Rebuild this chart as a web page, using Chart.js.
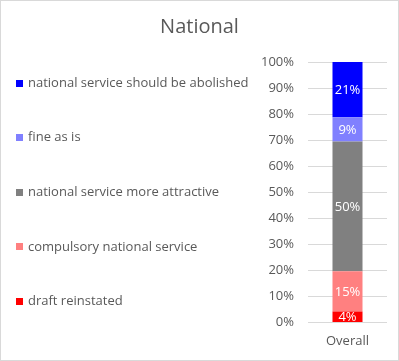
<!DOCTYPE html>
<html>
<head>
<meta charset="utf-8">
<script src="https://cdn.jsdelivr.net/npm/chart.js@4.4.1/dist/chart.umd.min.js"></script>
<style>
  html, body { margin: 0; padding: 0; background: #fff; }
  #wrap { width: 399px; height: 361px; box-sizing: border-box; border: 1px solid #d9d9d9; }
  canvas { display: block; }
</style>
</head>
<body>
<div id="wrap"><canvas id="myChart" width="397" height="359"></canvas></div>
<script>
// data
const categories = ['Overall'];
const seriesNames = [
    'draft reinstated',
    'compulsory national service',
    'national service more attractive',
    'fine as is',
    'national service should be abolished'
];
const draftReinstated = [4.2];
const compulsoryService = [15.4];
const moreAttractive = [49.9];
const fineAsIs = [9.3];
const shouldBeAbolished = [21.2];

const colors = ['#ff0000', '#ff8080', '#808080', '#8080ff', '#0000ff'];
const textColor = '#595959';
const fontFamily = '"Open Sans", sans-serif';

// ### labels inside the bars
const valueLabels = {
    id: 'valueLabels',
    afterDatasetsDraw(chart) {
        const ctx = chart.ctx;
        ctx.save();
        ctx.fillStyle = '#ffffff';
        ctx.font = '13px ' + fontFamily;
        ctx.textAlign = 'center';
        ctx.textBaseline = 'middle';
        chart.data.datasets.forEach((ds, i) => {
            chart.getDatasetMeta(i).data.forEach((bar, j) => {
                ctx.fillText(Math.round(ds.data[j]) + '%', bar.x, (bar.y + bar.base) / 2 + 1);
            });
        });
        ctx.restore();
    }
};

// ### legend on the left, spread over the plot height
const sideLegend = {
    id: 'sideLegend',
    afterDraw(chart) {
        const ctx = chart.ctx;
        const area = chart.chartArea;
        const items = chart.data.datasets.slice().reverse();
        const step = (area.height - 42) / (items.length - 1);
        ctx.save();
        ctx.font = '13px ' + fontFamily;
        ctx.textBaseline = 'middle';
        items.forEach((ds, i) => {
            const y = area.top + 21 + i * step;
            ctx.fillStyle = ds.backgroundColor;
            ctx.fillRect(15, Math.round(y - 3.5), 7, 7);
            ctx.fillStyle = textColor;
            ctx.fillText(ds.label, 27, y);
        });
        ctx.restore();
    }
};

const seriesData = [draftReinstated, compulsoryService, moreAttractive, fineAsIs, shouldBeAbolished];

const data = {
    labels: categories,
    datasets: seriesNames.map((name, i) => ({
        label: name,
        data: seriesData[i],
        backgroundColor: colors[i],
        categoryPercentage: 1,
        barPercentage: 0.38
    }))
};

const config = {
    type: 'bar',
    data: data,
    options: {
        responsive: false,
        animation: false,
        layout: { padding: { left: 11, right: 11, top: 0, bottom: 0 } },
        plugins: {
            legend: { display: false },
            tooltip: { enabled: false },
            title: {
                display: true,
                text: 'National',
                color: textColor,
                font: { family: fontFamily, size: 20, weight: 'normal' },
                padding: { top: 14, bottom: 23 }
            }
        },
        scales: {
            x: {
                stacked: true,
                grid: { display: false, drawTicks: false },
                border: { display: false },
                ticks: { color: textColor, font: { family: fontFamily, size: 13 }, padding: 11 }
            },
            y: {
                stacked: true,
                min: 0,
                max: 100,
                grid: { color: '#d9d9d9', drawTicks: false },
                border: { display: false },
                ticks: {
                    stepSize: 10,
                    color: textColor,
                    font: { family: fontFamily, size: 13 },
                    padding: 14,
                    callback: v => v + '%'
                },
                // room for the legend on the left
                afterFit: scale => { scale.width = 296; }
            }
        }
    },
    plugins: [valueLabels, sideLegend]
};

new Chart(document.getElementById('myChart'), config);
</script>
</body>
</html>
